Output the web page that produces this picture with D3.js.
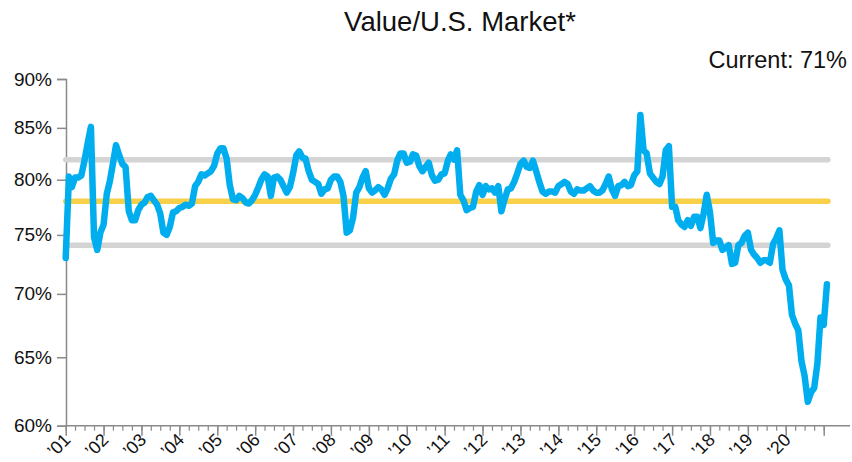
<!DOCTYPE html>
<html>
<head>
<meta charset="utf-8">
<script src="https://cdn.jsdelivr.net/npm/d3@7"></script>
<style>
  body { margin: 0; background: #fff; }
  svg { display: block; font-family: "Liberation Sans", Arial, sans-serif; }
</style>
</head>
<body>
<svg id="chart"></svg>
<script>
'use strict';

const WIDTH = 852;
const HEIGHT = 462;

// monthly readings, Jan 2001 .. Feb 2021 (percent)
const FIRST_MONTH = new Date(2001, 0, 1);
const VALUES = [
  73.0, 80.3, 79.3, 80.2, 80.2, 80.4, 81.8, 83.5, 85.1, 74.8, 73.7, 75.2,
  75.9, 78.7, 79.8, 81.5, 83.3, 82.3, 81.5, 81.2, 77.1, 76.3, 76.3, 77.2,
  77.7, 77.9, 78.4, 78.5, 78.1, 77.7, 76.9, 75.2, 75.0, 75.7, 77.0, 77.1,
  77.4, 77.5, 77.7, 77.6, 77.8, 79.4, 79.8, 80.5, 80.4, 80.6, 80.8, 81.3,
  82.5, 83.0, 83.0, 82.0, 79.5, 78.2, 78.1, 78.5, 78.3, 77.9, 77.8, 78.1,
  78.6, 79.3, 80.0, 80.5, 80.3, 78.5, 80.2, 80.3, 80.0, 79.4, 78.8, 79.3,
  80.6, 82.3, 82.7, 82.1, 82.0, 80.8, 80.0, 79.8, 79.6, 78.7, 79.1, 79.2,
  80.0, 80.3, 80.3, 79.8, 78.5, 75.2, 75.4, 76.5, 78.8, 79.3, 80.2, 80.8,
  79.2, 78.8, 79.0, 79.3, 79.1, 78.6, 79.2, 80.1, 80.5, 81.8, 82.5, 82.5,
  81.6, 81.7, 82.4, 82.3, 81.3, 80.8, 81.2, 81.6, 80.4, 79.9, 80.0, 80.5,
  80.6, 81.8, 82.4, 81.9, 82.8, 78.6, 78.1, 77.2, 77.4, 77.5, 78.9, 79.5,
  78.6, 79.4, 79.1, 79.2, 78.8, 79.4, 77.1, 78.2, 79.1, 79.2, 79.8, 80.6,
  81.5, 81.8, 81.2, 81.1, 81.8, 80.8, 79.8, 78.9, 78.7, 78.9, 78.9, 78.8,
  79.4, 79.6, 79.8, 79.6, 78.9, 78.7, 79.1, 79.0, 79.0, 79.2, 79.4, 79.0,
  78.8, 78.8, 79.0, 79.6, 80.3, 79.1, 78.5, 79.4, 79.5, 79.8, 79.4, 79.5,
  80.4, 80.8, 86.3, 82.8, 82.5, 80.6, 80.2, 79.8, 79.6, 80.3, 82.8, 83.2,
  77.5, 77.5, 76.3, 75.9, 75.7, 76.3, 75.8, 76.6, 76.6, 75.6, 76.9, 78.6,
  77.0, 74.3, 74.5, 74.5, 73.7, 73.9, 74.1, 72.5, 72.6, 74.1, 74.3, 74.9,
  75.2, 73.7, 73.3, 73.0, 72.6, 72.8, 72.8, 72.6, 74.2, 74.7, 75.4, 72.0,
  71.2, 70.7, 68.3, 67.6, 67.1, 64.7, 63.6, 61.7, 62.4, 62.7, 64.5, 68.1,
  67.5, 70.8
];

const AVERAGE = [78.0];
const STD_BANDS = [81.9, 74.1];

const Y_TICKS = [60, 65, 70, 75, 80, 85, 90];
const TICK_YEARS = d3.range(2001, 2022);
const YEAR_LABELS = ['’01', '’02', '’03', '’04', '’05', '’06', '’07', '’08', '’09', '’10',
  '’11', '’12', '’13', '’14', '’15', '’16', '’17', '’18', '’19', '’20'];

const TITLE = 'Value/U.S. Market*';
const CURRENT_LABEL = 'Current: 71%';

const BLUE = '#00aeef';
const GOLD = '#f8d04a';
const GREY = '#d4d4d4';
const AXIS = '#8a8a8a';

const data = VALUES.map((v, i) => ({ date: d3.timeMonth.offset(FIRST_MONTH, i), value: v }));

const x = d3.scaleTime()
  .domain([new Date(2001, 0, 1), new Date(2021, 0, 1)])
  .range([65.7, 823.7]);

const y = d3.scaleLog()
  .domain([60, 90])
  .range([425.7, 79]);

const svg = d3.select('#chart')
  .attr('width', WIDTH)
  .attr('height', HEIGHT)
  .attr('viewBox', `0 0 ${WIDTH} ${HEIGHT}`);

svg.append('text')
  .attr('x', 460).attr('y', 31)
  .attr('text-anchor', 'middle')
  .attr('font-size', 27.5)
  .attr('fill', '#111')
  .text(TITLE);

svg.append('text')
  .attr('x', 847).attr('y', 68)
  .attr('text-anchor', 'end')
  .attr('font-size', 23.5)
  .attr('fill', '#111')
  .text(CURRENT_LABEL);

// y axis
const yAxis = svg.append('g')
  .attr('transform', 'translate(66,0)')
  .call(d3.axisLeft(y).tickValues(Y_TICKS).tickSize(9).tickPadding(5)
    .tickFormat(d => d + '%'));
yAxis.select('.domain').attr('stroke', AXIS).attr('stroke-width', 1.5);
yAxis.selectAll('.tick line').attr('stroke', AXIS).attr('stroke-width', 1.5);
yAxis.selectAll('.tick text')
  .attr('font-size', 19).attr('fill', '#111').attr('font-family', null);

// x axis: quarterly minor ticks, yearly major ticks
const xAxisY = 425.7;
const minor = svg.append('g')
  .attr('transform', `translate(0,${xAxisY})`)
  .call(d3.axisBottom(x).tickValues(d3.timeMonth.every(3).range(new Date(2001, 0, 1), new Date(2021, 0, 2)))
    .tickSize(5).tickFormat(''));
minor.select('.domain').remove();
minor.selectAll('.tick line').attr('stroke', AXIS).attr('stroke-width', 1.2);

const major = svg.append('g')
  .attr('transform', `translate(0,${xAxisY})`)
  .call(d3.axisBottom(x).tickValues(TICK_YEARS.map(yr => new Date(yr, 0, 1)))
    .tickSize(10).tickFormat(''));
major.select('.domain').remove();
major.selectAll('.tick line').attr('stroke', AXIS).attr('stroke-width', 1.5);

svg.append('line')
  .attr('x1', 66).attr('x2', 850)
  .attr('y1', xAxisY).attr('y2', xAxisY)
  .attr('stroke', AXIS).attr('stroke-width', 1.5);

svg.append('g')
  .selectAll('text')
  .data(YEAR_LABELS)
  .join('text')
  .attr('transform', (d, i) => `translate(${x(new Date(TICK_YEARS[i], 0, 1)) + 6},441) rotate(-45)`)
  .attr('text-anchor', 'end')
  .attr('font-size', 18)
  .attr('fill', '#111')
  .text(d => d);

// reference lines
const xStart = x(data[0].date);
const xEnd = x(data[data.length - 1].date) + 1;

svg.append('g')
  .selectAll('line')
  .data(STD_BANDS)
  .join('line')
  .attr('x1', xStart).attr('x2', xEnd)
  .attr('y1', d => y(d)).attr('y2', d => y(d))
  .attr('stroke', GREY).attr('stroke-width', 5.5).attr('stroke-linecap', 'round');

svg.append('g')
  .selectAll('line')
  .data(AVERAGE)
  .join('line')
  .attr('x1', xStart).attr('x2', xEnd)
  .attr('y1', d => y(d)).attr('y2', d => y(d))
  .attr('stroke', GOLD).attr('stroke-width', 5.5).attr('stroke-linecap', 'round');

// series
const line = d3.line()
  .x(d => x(d.date))
  .y(d => y(d.value));

svg.append('path')
  .datum(data)
  .attr('d', line)
  .attr('fill', 'none')
  .attr('stroke', BLUE)
  .attr('stroke-width', 6.5)
  .attr('stroke-linejoin', 'round')
  .attr('stroke-linecap', 'round');
</script>
</body>
</html>
